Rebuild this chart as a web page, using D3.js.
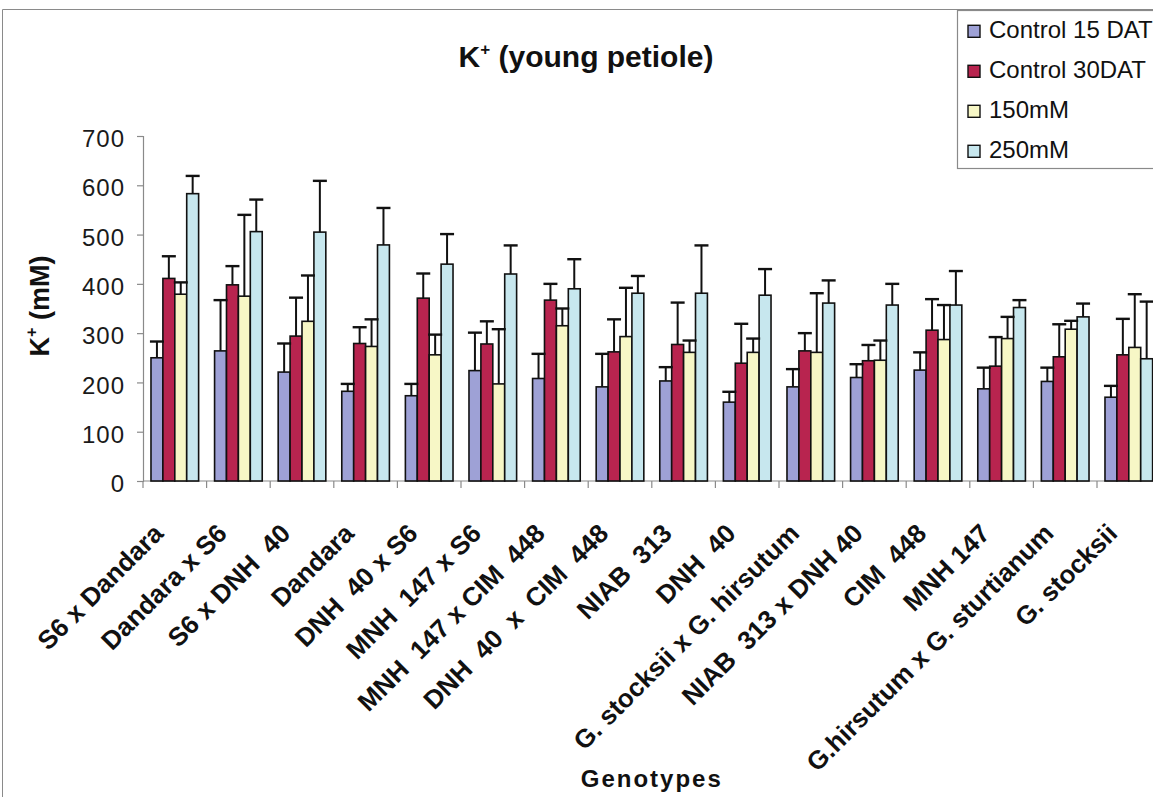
<!DOCTYPE html>
<html>
<head>
<meta charset="utf-8">
<script src="https://cdn.jsdelivr.net/npm/d3@7"></script>
<style>
  html, body { margin: 0; padding: 0; background: #fff; }
  svg { display: block; font-family: "Liberation Sans", Arial, sans-serif; }
</style>
</head>
<body>
<svg id="chart" width="1153" height="797"></svg>
<script>
// Genotypes on the x axis
const categories = [
  "S6 x Dandara", "Dandara x S6", "S6 x DNH  40", "Dandara", "DNH  40 x S6",
  "MNH  147 x S6", "MNH  147 x CIM  448", "DNH  40  x  CIM  448", "NIAB  313",
  "DNH  40", "G. stocksii x G. hirsutum", "NIAB  313 x DNH 40", "CIM  448",
  "MNH 147", "G.hirsutum x G. sturtianum", "G. stocksii"
];
const seriesNames = ["Control 15 DAT", "Control 30DAT", "150mM", "250mM"];
const seriesColors = ["#9ea1d6", "#b8244f", "#f7f7c6", "#c7e7ee"];

// K+ concentration (mM) and upper error (mM) per series
const control15 = [250, 264, 221, 182, 173, 224, 208, 191, 203, 160, 191, 210, 225, 187, 202, 170];
const control15Err = [33, 103, 58, 15, 24, 77, 50, 67, 28, 21, 36, 27, 36, 43, 28, 23];
const control30 = [411, 398, 294, 279, 371, 278, 367, 262, 277, 239, 264, 244, 306, 233, 252, 256];
const control30Err = [45, 38, 78, 33, 50, 46, 33, 66, 85, 80, 36, 32, 63, 59, 66, 73];
const salt150 = [379, 375, 324, 273, 256, 197, 315, 293, 261, 261, 261, 245, 287, 289, 308, 271];
const salt150Err = [24, 165, 93, 55, 41, 111, 35, 99, 24, 28, 120, 40, 70, 44, 17, 108];
const salt250 = [583, 506, 505, 479, 440, 420, 390, 381, 381, 377, 361, 357, 357, 352, 333, 248];
const salt250Err = [36, 65, 104, 75, 61, 58, 60, 35, 97, 53, 46, 43, 69, 15, 27, 116];

const yTicks = [0, 100, 200, 300, 400, 500, 600, 700];

const values = [control15, control30, salt150, salt250];
const errors = [control15Err, control30Err, salt150Err, salt250Err];

const svg = d3.select("#chart");
const axisColor = "#8a8a8a";

const plotLeft = 143, plotTop = 136, plotBottom = 481;
const step = 63.6;

const x0 = d3.scaleBand().domain(categories)
  .range([plotLeft, plotLeft + step * categories.length]).padding(0);
const x1 = d3.scaleBand().domain(d3.range(seriesNames.length))
  .range([0, x0.bandwidth()]).paddingInner(0).paddingOuter(0.67);
const y = d3.scaleLinear().domain([0, 700]).range([plotBottom, plotTop]);

// Outer chart frame
svg.append("path")
  .attr("d", `M2.5,797 V9.5 H1153`)
  .attr("fill", "none").attr("stroke", axisColor).attr("stroke-width", 1);

// Title
const title = svg.append("text")
  .attr("x", 586).attr("y", 67)
  .attr("text-anchor", "middle")
  .attr("font-size", 30).attr("font-weight", "bold").attr("fill", "#111");
title.append("tspan").text("K");
title.append("tspan").attr("font-size", 17).attr("dy", -12).text("+");
title.append("tspan").attr("dy", 12).text(" (young petiole)");

// Y axis
const yAxis = d3.axisLeft(y).tickValues(yTicks).tickSize(6).tickPadding(12);
const yg = svg.append("g").attr("transform", `translate(${plotLeft},0)`).call(yAxis);
yg.select(".domain").attr("stroke", axisColor).attr("stroke-width", 1.2);
yg.selectAll(".tick line").attr("stroke", axisColor).attr("stroke-width", 1.2);
yg.selectAll(".tick text")
  .attr("font-size", 24).attr("fill", "#1a1a1a")
  .attr("font-family", "'Liberation Sans', Arial, sans-serif")
  .attr("letter-spacing", 1)
  .attr("dy", "0.36em").attr("y", 2);

// Y axis title
const yTitle = svg.append("text")
  .attr("transform", "translate(49,306) rotate(-90)")
  .attr("text-anchor", "middle")
  .attr("font-size", 27).attr("font-weight", "bold").attr("fill", "#111");
yTitle.append("tspan").text("K");
yTitle.append("tspan").attr("font-size", 16).attr("dy", -12).text("+");
yTitle.append("tspan").attr("dy", 12).text(" (mM)");

// X axis line and boundary ticks
svg.append("line")
  .attr("x1", plotLeft).attr("x2", 1153)
  .attr("y1", plotBottom).attr("y2", plotBottom)
  .attr("stroke", axisColor).attr("stroke-width", 1.2);
const boundaries = categories.map(c => x0(c)).concat([x0(categories[categories.length - 1]) + x0.bandwidth()]);
svg.append("g").selectAll("line").data(boundaries).join("line")
  .attr("x1", d => d).attr("x2", d => d)
  .attr("y1", plotBottom).attr("y2", plotBottom + 7)
  .attr("stroke", axisColor).attr("stroke-width", 1.2);

// Bars
const groups = svg.append("g").selectAll("g").data(categories).join("g")
  .attr("transform", c => `translate(${x0(c)},0)`);

groups.each(function (c, ci) {
  const g = d3.select(this);
  seriesNames.forEach((s, si) => {
    const v = values[si][ci];
    const bx = x1(si);
    g.append("rect")
      .attr("x", bx).attr("y", y(v))
      .attr("width", x1.bandwidth()).attr("height", y(0) - y(v))
      .attr("fill", seriesColors[si])
      .attr("stroke", "#111").attr("stroke-width", 1.6);
  });
  // Error bars (upper only)
  seriesNames.forEach((s, si) => {
    const v = values[si][ci];
    const e = errors[si][ci];
    const cx = x1(si) + x1.bandwidth() / 2;
    g.append("line")
      .attr("x1", cx).attr("x2", cx)
      .attr("y1", y(v)).attr("y2", y(v + e))
      .attr("stroke", "#111").attr("stroke-width", 2);
    g.append("line")
      .attr("x1", cx - 7).attr("x2", cx + 7)
      .attr("y1", y(v + e)).attr("y2", y(v + e))
      .attr("stroke", "#111").attr("stroke-width", 2.4);
  });
});

// Category labels, rotated
svg.append("g").selectAll("text").data(categories).join("text")
  .attr("transform", c => `translate(${x0(c) + x0.bandwidth() / 2 - 10},535) rotate(-45)`)
  .attr("text-anchor", "end")
  .style("white-space", "pre")
  .attr("font-size", 26).attr("font-weight", "bold").attr("fill", "#111")
  .text(c => c);

// X axis title
svg.append("text")
  .attr("x", (plotLeft + x0.range()[1]) / 2).attr("y", 787)
  .attr("text-anchor", "middle")
  .attr("font-size", 24).attr("font-weight", "bold").attr("letter-spacing", 2)
  .attr("fill", "#111")
  .text("Genotypes");

// Legend
const legend = svg.append("g").attr("transform", "translate(957,10)");
legend.append("rect")
  .attr("x", 0.5).attr("y", 0.5).attr("width", 260).attr("height", 158)
  .attr("fill", "#fff").attr("stroke", axisColor).attr("stroke-width", 1.2);
seriesNames.forEach((s, i) => {
  const base = 28.3 + i * 40;
  legend.append("rect")
    .attr("x", 11).attr("y", base - 13).attr("width", 12).attr("height", 12)
    .attr("fill", seriesColors[i]).attr("stroke", "#111").attr("stroke-width", 1.4);
  legend.append("text")
    .attr("x", 32).attr("y", base)
    .attr("font-size", 24).attr("fill", "#111")
    .text(s);
});
</script>
</body>
</html>
